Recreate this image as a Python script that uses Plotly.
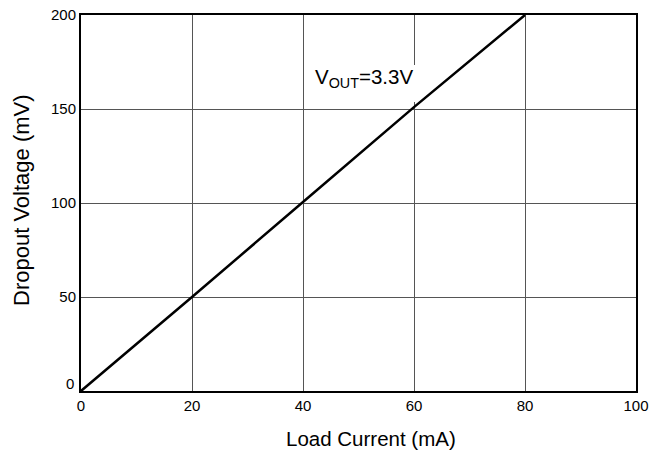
import plotly.graph_objects as go

load_current = [0, 3, 6, 10, 20, 40, 60, 80]
dropout_mv = [0, 7.5, 14.5, 25, 50, 100.5, 151, 200]
x_ticks = [0, 20, 40, 60, 80, 100]
y_ticks = [50, 100, 150, 200]
y_zero_label = "0"

FONT = "Arial, Liberation Sans, sans-serif"

fig = go.Figure()
fig.add_trace(go.Scatter(x=load_current, y=dropout_mv, mode="lines",
                         line=dict(color="black", width=2.5), showlegend=False))

fig.add_shape(type="rect", xref="x", yref="y", x0=40.4, x1=60.8, y0=153.7, y1=173.4,
              fillcolor="white", line=dict(width=0), layer="between")

fig.add_annotation(x=51, y=166.5, xref="x", yref="y", text="V<sub>OUT</sub>=3.3V",
                   showarrow=False, font=dict(family=FONT, size=20.5, color="black"))
fig.add_annotation(x=0, y=0, xref="paper", yref="y", text=y_zero_label, showarrow=False,
                   xanchor="right", xshift=-5, yshift=8,
                   font=dict(family=FONT, size=15, color="black"))

# axis titles
fig.add_annotation(x=0.5, y=0, xref="paper", yref="paper", text="Load Current (mA)",
                   showarrow=False, xanchor="center", yanchor="middle", xshift=12, yshift=-47,
                   font=dict(family=FONT, size=20.5, color="black"))
fig.add_annotation(x=0, y=0.5, xref="paper", yref="paper", text="Dropout Voltage (mV)",
                   showarrow=False, textangle=-90, xanchor="center", yanchor="middle",
                   xshift=-60, yshift=3, font=dict(family=FONT, size=22, color="black"))

fig.update_xaxes(range=[0, 100], tickvals=x_ticks, showgrid=True, gridcolor="#555555",
                 gridwidth=1, showline=True, linecolor="black", linewidth=2, mirror=True,
                 zeroline=False, ticks="", automargin=False,
                 tickfont=dict(family=FONT, size=15, color="black"))
fig.update_yaxes(range=[0, 200], tickvals=y_ticks, showgrid=True,
                 gridcolor="#555555", gridwidth=1, showline=True, linecolor="black",
                 linewidth=2, mirror=True, zeroline=False, ticks="", automargin=False,
                 tickfont=dict(family=FONT, size=15, color="black"))
fig.update_layout(width=668, height=452, margin=dict(l=81, r=32, t=15, b=61),
                  plot_bgcolor="white", paper_bgcolor="white")
fig.write_html("out.html", config={"displayModeBar": False},
               post_script="document.body.style.margin='0';")
